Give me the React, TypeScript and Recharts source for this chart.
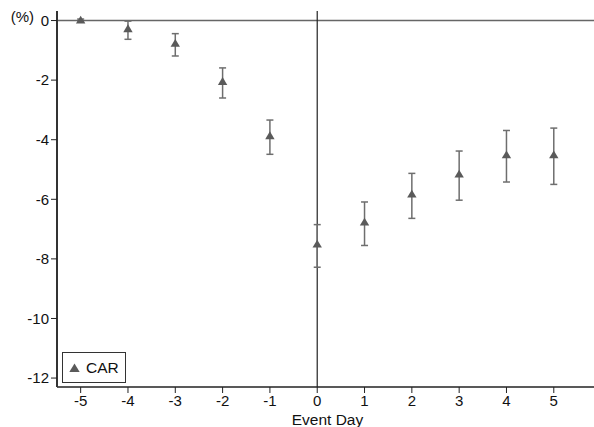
import React from 'react';
import { ComposedChart, Scatter, XAxis, YAxis, ErrorBar, ReferenceLine } from 'recharts';

const eventDays = [-5, -4, -3, -2, -1, 0, 1, 2, 3, 4, 5];
const carValues = [0.0, -0.29, -0.78, -2.06, -3.88, -7.52, -6.78, -5.84, -5.17, -4.52, -4.52];
const ciLow = [-0.05, -0.63, -1.19, -2.6, -4.49, -8.28, -7.55, -6.64, -6.03, -5.42, -5.5];
const ciHigh = [0.05, -0.02, -0.44, -1.59, -3.34, -6.85, -6.09, -5.13, -4.38, -3.69, -3.61];
const xTicks = [-5, -4, -3, -2, -1, 0, 1, 2, 3, 4, 5];
const yTicks = [-12, -10, -8, -6, -4, -2, 0];

const data = eventDays.map((d, i) => ({
  day: d,
  car: carValues[i],
  err: [carValues[i] - ciLow[i], ciHigh[i] - carValues[i]],
}));

const FONT = 'Liberation Sans, Arial, sans-serif';
const MARK = '#5a5a5a';

const Triangle = (props: any) => {
  const { cx, cy } = props;
  if (cx == null || cy == null) return null;
  return <path d={`M${cx},${cy - 4.8} L${cx + 4.7},${cy + 3} L${cx - 4.7},${cy + 3} Z`} fill={MARK} />;
};

const LegendBox = () => (
  <div
    style={{
      position: 'absolute',
      left: 62,
      top: 352,
      width: 64,
      height: 31,
      border: '1px solid #333',
      background: '#fff',
      display: 'flex',
      alignItems: 'center',
      fontFamily: FONT,
      fontSize: 15.5,
      color: '#111',
      boxSizing: 'border-box',
    }}
  >
    <svg width={20} height={20} style={{ marginLeft: 1 }}>
      <path d="M10.5,5.5 L15.7,14 L5.3,14 Z" fill={MARK} />
    </svg>
    <span style={{ marginLeft: 2 }}>CAR</span>
  </div>
);

export default function App() {
  return (
    <div style={{ position: 'absolute', left: 0, top: 0, width: 594, height: 427 }}>
      <ComposedChart width={594} height={427} data={data} margin={{ top: 11, right: 0, bottom: 0, left: 0 }}>
        <XAxis
          xAxisId="top"
          orientation="top"
          dataKey="day"
          type="number"
          domain={[-5.5, 5.85]}
          height={0}
          tick={false}
          tickLine={false}
          axisLine={{ stroke: '#666', strokeWidth: 1.5 }}
        />
        <XAxis
          dataKey="day"
          type="number"
          domain={[-5.5, 5.85]}
          ticks={xTicks}
          allowDataOverflow
          height={40}
          tickSize={6}
          tick={{ fill: '#111', fontSize: 15, fontFamily: FONT }}
          tickLine={{ stroke: '#222' }}
          axisLine={{ stroke: '#222', strokeWidth: 1.5 }}
          label={{ value: 'Event Day', position: 'insideBottom', offset: 2, fill: '#111', fontSize: 15.5, fontFamily: FONT, dx: 2 }}
        />
        <YAxis
          type="number"
          domain={[-12.3, 0.32]}
          ticks={yTicks}
          allowDataOverflow
          width={57}
          tickSize={6}
          tick={{ fill: '#111', fontSize: 15, fontFamily: FONT }}
          tickLine={{ stroke: '#222' }}
          axisLine={{ stroke: '#333', strokeWidth: 2 }}
        />
        <ReferenceLine
          y={0}
          stroke="#666"
          strokeWidth={1.5}
          label={{ value: '(%)', position: 'left', offset: 23, fill: '#111', fontSize: 15, fontFamily: FONT, dy: -4 }}
        />
        <ReferenceLine x={0} stroke="#222" strokeWidth={1.2} />
        <Scatter name="CAR" dataKey="car" shape={<Triangle />} isAnimationActive={false} fill={MARK}>
          <ErrorBar dataKey="err" direction="y" width={3.5} stroke="#6e6e6e" strokeWidth={1.5} isAnimationActive={false} />
        </Scatter>
      </ComposedChart>
      <LegendBox />
    </div>
  );
}
